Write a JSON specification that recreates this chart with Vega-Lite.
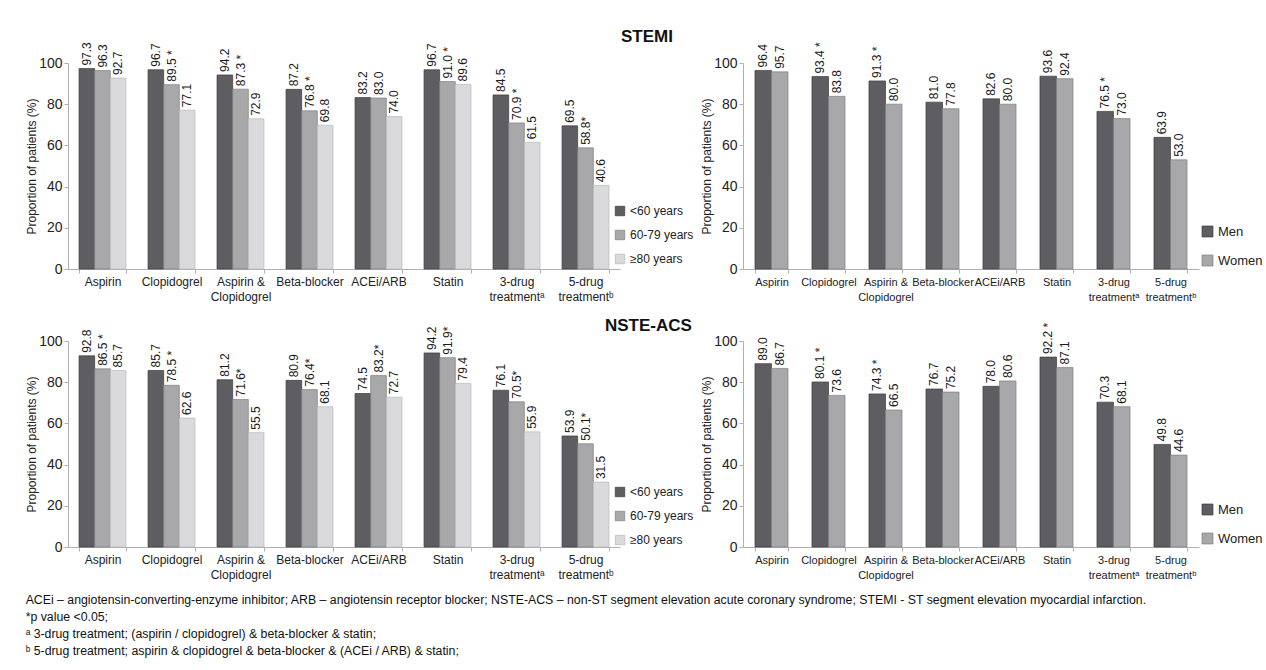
{
  "$schema": "https://vega.github.io/schema/vega-lite/v6.json",
  "padding": {"left": 25, "top": 28, "right": 0, "bottom": 2},
  "background": "white",
  "bounds": "flush",
  "columns": 2,
  "spacing": {"row": 72, "column": 123},
  "resolve": {
    "scale": {"color": "independent", "stroke": "independent", "xOffset": "independent", "x": "independent"},
    "legend": {"color": "independent"}
  },
  "config": {
    "font": "Liberation Sans",
    "view": {"stroke": null},
    "axisY": {
      "grid": false,
      "labelFontSize": 14,
      "labelColor": "#222222",
      "domainColor": "#b0b0b0",
      "tickColor": "#b0b0b0",
      "tickSize": 4,
      "labelPadding": 2,
      "titleFontSize": 12,
      "titleFontWeight": "normal",
      "titleColor": "#222222",
      "titlePadding": 0
    },
    "axisX": {
      "grid": false,
      "domainColor": "#b0b0b0",
      "tickColor": "#b0b0b0",
      "tickSize": 4,
      "tickBand": "extent",
      "labelAngle": 0,
      "labelColor": "#222222",
      "labelPadding": 3,
      "labelLineHeight": 15,
      "labelBaseline": "top",
      "title": null
    },
    "legend": {
      "labelFont": "Liberation Sans",
      "labelColor": "#222222",
      "symbolType": "square",
      "symbolStrokeColor": "#555555",
      "symbolStrokeWidth": 0.7
    }
  },
  "title": {
    "text": [
      "ACEi – angiotensin-converting-enzyme inhibitor; ARB – angiotensin receptor blocker; NSTE-ACS – non-ST segment elevation acute coronary syndrome; STEMI - ST segment elevation myocardial infarction.",
      "*p value <0.05;",
      "ᵃ 3-drug treatment; (aspirin / clopidogrel) & beta-blocker & statin;",
      "ᵇ 5-drug treatment; aspirin & clopidogrel & beta-blocker & (ACEi / ARB) & statin;"
    ],
    "orient": "bottom",
    "anchor": "start",
    "frame": "bounds",
    "fontSize": 12.3,
    "fontWeight": "normal",
    "color": "#111111",
    "lineHeight": 17,
    "offset": 14
  },
  "datasets": {
    "stemiAge": [
      {"drug": "Aspirin", "group": "<60 years", "value": 97.3, "label": "97.3"},
      {"drug": "Aspirin", "group": "60-79 years", "value": 96.3, "label": "96.3"},
      {"drug": "Aspirin", "group": "≥80 years", "value": 92.7, "label": "92.7"},
      {"drug": "Clopidogrel", "group": "<60 years", "value": 96.7, "label": "96.7"},
      {"drug": "Clopidogrel", "group": "60-79 years", "value": 89.5, "label": "89.5 *"},
      {"drug": "Clopidogrel", "group": "≥80 years", "value": 77.1, "label": "77.1"},
      {"drug": "Aspirin &|Clopidogrel", "group": "<60 years", "value": 94.2, "label": "94.2"},
      {"drug": "Aspirin &|Clopidogrel", "group": "60-79 years", "value": 87.3, "label": "87.3 *"},
      {"drug": "Aspirin &|Clopidogrel", "group": "≥80 years", "value": 72.9, "label": "72.9"},
      {"drug": "Beta-blocker", "group": "<60 years", "value": 87.2, "label": "87.2"},
      {"drug": "Beta-blocker", "group": "60-79 years", "value": 76.8, "label": "76.8 *"},
      {"drug": "Beta-blocker", "group": "≥80 years", "value": 69.8, "label": "69.8"},
      {"drug": "ACEi/ARB", "group": "<60 years", "value": 83.2, "label": "83.2"},
      {"drug": "ACEi/ARB", "group": "60-79 years", "value": 83.0, "label": "83.0"},
      {"drug": "ACEi/ARB", "group": "≥80 years", "value": 74.0, "label": "74.0"},
      {"drug": "Statin", "group": "<60 years", "value": 96.7, "label": "96.7"},
      {"drug": "Statin", "group": "60-79 years", "value": 91.0, "label": "91.0 *"},
      {"drug": "Statin", "group": "≥80 years", "value": 89.6, "label": "89.6"},
      {"drug": "3-drug|treatmentᵃ", "group": "<60 years", "value": 84.5, "label": "84.5"},
      {"drug": "3-drug|treatmentᵃ", "group": "60-79 years", "value": 70.9, "label": "70.9  *"},
      {"drug": "3-drug|treatmentᵃ", "group": "≥80 years", "value": 61.5, "label": "61.5"},
      {"drug": "5-drug|treatmentᵇ", "group": "<60 years", "value": 69.5, "label": "69.5"},
      {"drug": "5-drug|treatmentᵇ", "group": "60-79 years", "value": 58.8, "label": "58.8*"},
      {"drug": "5-drug|treatmentᵇ", "group": "≥80 years", "value": 40.6, "label": "40.6"}
    ],
    "stemiSex": [
      {"drug": "Aspirin", "sex": "Men", "value": 96.4, "label": "96.4"},
      {"drug": "Aspirin", "sex": "Women", "value": 95.7, "label": "95.7"},
      {"drug": "Clopidogrel", "sex": "Men", "value": 93.4, "label": "93.4  *"},
      {"drug": "Clopidogrel", "sex": "Women", "value": 83.8, "label": "83.8"},
      {"drug": "Aspirin &|Clopidogrel", "sex": "Men", "value": 91.3, "label": "91.3  *"},
      {"drug": "Aspirin &|Clopidogrel", "sex": "Women", "value": 80.0, "label": "80.0"},
      {"drug": "Beta-blocker", "sex": "Men", "value": 81.0, "label": "81.0"},
      {"drug": "Beta-blocker", "sex": "Women", "value": 77.8, "label": "77.8"},
      {"drug": "ACEi/ARB", "sex": "Men", "value": 82.6, "label": "82.6"},
      {"drug": "ACEi/ARB", "sex": "Women", "value": 80.0, "label": "80.0"},
      {"drug": "Statin", "sex": "Men", "value": 93.6, "label": "93.6"},
      {"drug": "Statin", "sex": "Women", "value": 92.4, "label": "92.4"},
      {"drug": "3-drug|treatmentᵃ", "sex": "Men", "value": 76.5, "label": "76.5   *"},
      {"drug": "3-drug|treatmentᵃ", "sex": "Women", "value": 73.0, "label": "73.0"},
      {"drug": "5-drug|treatmentᵇ", "sex": "Men", "value": 63.9, "label": "63.9"},
      {"drug": "5-drug|treatmentᵇ", "sex": "Women", "value": 53.0, "label": "53.0"}
    ],
    "nsteAge": [
      {"drug": "Aspirin", "group": "<60 years", "value": 92.8, "label": "92.8"},
      {"drug": "Aspirin", "group": "60-79 years", "value": 86.5, "label": "86.5 *"},
      {"drug": "Aspirin", "group": "≥80 years", "value": 85.7, "label": "85.7"},
      {"drug": "Clopidogrel", "group": "<60 years", "value": 85.7, "label": "85.7"},
      {"drug": "Clopidogrel", "group": "60-79 years", "value": 78.5, "label": "78.5 *"},
      {"drug": "Clopidogrel", "group": "≥80 years", "value": 62.6, "label": "62.6"},
      {"drug": "Aspirin &|Clopidogrel", "group": "<60 years", "value": 81.2, "label": "81.2"},
      {"drug": "Aspirin &|Clopidogrel", "group": "60-79 years", "value": 71.6, "label": "71.6*"},
      {"drug": "Aspirin &|Clopidogrel", "group": "≥80 years", "value": 55.5, "label": "55.5"},
      {"drug": "Beta-blocker", "group": "<60 years", "value": 80.9, "label": "80.9"},
      {"drug": "Beta-blocker", "group": "60-79 years", "value": 76.4, "label": "76.4*"},
      {"drug": "Beta-blocker", "group": "≥80 years", "value": 68.1, "label": "68.1"},
      {"drug": "ACEi/ARB", "group": "<60 years", "value": 74.5, "label": "74.5"},
      {"drug": "ACEi/ARB", "group": "60-79 years", "value": 83.2, "label": "83.2*"},
      {"drug": "ACEi/ARB", "group": "≥80 years", "value": 72.7, "label": "72.7"},
      {"drug": "Statin", "group": "<60 years", "value": 94.2, "label": "94.2"},
      {"drug": "Statin", "group": "60-79 years", "value": 91.9, "label": "91.9*"},
      {"drug": "Statin", "group": "≥80 years", "value": 79.4, "label": "79.4"},
      {"drug": "3-drug|treatmentᵃ", "group": "<60 years", "value": 76.1, "label": "76.1"},
      {"drug": "3-drug|treatmentᵃ", "group": "60-79 years", "value": 70.5, "label": "70.5*"},
      {"drug": "3-drug|treatmentᵃ", "group": "≥80 years", "value": 55.9, "label": "55.9"},
      {"drug": "5-drug|treatmentᵇ", "group": "<60 years", "value": 53.9, "label": "53.9"},
      {"drug": "5-drug|treatmentᵇ", "group": "60-79 years", "value": 50.1, "label": "50.1*"},
      {"drug": "5-drug|treatmentᵇ", "group": "≥80 years", "value": 31.5, "label": "31.5"}
    ],
    "nsteSex": [
      {"drug": "Aspirin", "sex": "Men", "value": 89.0, "label": "89.0"},
      {"drug": "Aspirin", "sex": "Women", "value": 86.7, "label": "86.7"},
      {"drug": "Clopidogrel", "sex": "Men", "value": 80.1, "label": "80.1 *"},
      {"drug": "Clopidogrel", "sex": "Women", "value": 73.6, "label": "73.6"},
      {"drug": "Aspirin &|Clopidogrel", "sex": "Men", "value": 74.3, "label": "74.3 *"},
      {"drug": "Aspirin &|Clopidogrel", "sex": "Women", "value": 66.5, "label": "66.5"},
      {"drug": "Beta-blocker", "sex": "Men", "value": 76.7, "label": "76.7"},
      {"drug": "Beta-blocker", "sex": "Women", "value": 75.2, "label": "75.2"},
      {"drug": "ACEi/ARB", "sex": "Men", "value": 78.0, "label": "78.0"},
      {"drug": "ACEi/ARB", "sex": "Women", "value": 80.6, "label": "80.6"},
      {"drug": "Statin", "sex": "Men", "value": 92.2, "label": "92.2    *"},
      {"drug": "Statin", "sex": "Women", "value": 87.1, "label": "87.1"},
      {"drug": "3-drug|treatmentᵃ", "sex": "Men", "value": 70.3, "label": "70.3"},
      {"drug": "3-drug|treatmentᵃ", "sex": "Women", "value": 68.1, "label": "68.1"},
      {"drug": "5-drug|treatmentᵇ", "sex": "Men", "value": 49.8, "label": "49.8"},
      {"drug": "5-drug|treatmentᵇ", "sex": "Women", "value": 44.6, "label": "44.6"}
    ]
  },
  "concat": [
    {
      "width": 552,
      "height": 206,
      "data": {"name": "stemiAge"},
      "title": {"text": "STEMI", "anchor": "start", "frame": "group", "dx": 553, "dy": 4, "offset": 0, "fontSize": 17, "fontWeight": "bold", "color": "#111111"},
      "encoding": {
        "x": {"field": "drug", "type": "nominal", "sort": null, "scale": {"paddingInner": 0.32, "paddingOuter": 0.16}, "axis": {"labelExpr": "split(datum.label, '|')", "labelFontSize": 12}},
        "xOffset": {"field": "group", "type": "nominal", "sort": null, "scale": {"paddingInner": 0, "paddingOuter": 0}},
        "y": {"field": "value", "type": "quantitative", "scale": {"domain": [0, 100]}, "axis": {"values": [0, 20, 40, 60, 80, 100], "title": "Proportion of patients (%)"}}
      },
      "layer": [
        {
          "mark": {"type": "bar", "strokeWidth": 0.7},
          "encoding": {
            "color": {"field": "group", "type": "nominal", "sort": null, "scale": {"domain": ["<60 years", "60-79 years", "≥80 years"], "range": ["#5e5e62", "#a8a8ab", "#dadadc"]}, "legend": {"orient": "none", "legendX": 546, "legendY": 142, "title": null, "symbolSize": 90, "labelFontSize": 12, "rowPadding": 10}},
            "stroke": {"field": "group", "type": "nominal", "sort": null, "scale": {"domain": ["<60 years", "60-79 years", "≥80 years"], "range": ["#3c3c3f", "#7f7f82", "#b8b8bb"]}, "legend": null}
          }
        },
        {
          "mark": {"type": "text", "angle": 270, "align": "left", "baseline": "middle", "dx": 3, "fontSize": 12, "color": "#1a1a1a"},
          "encoding": {"text": {"field": "label"}}
        }
      ]
    },
    {
      "width": 456,
      "height": 206,
      "data": {"name": "stemiSex"},
      "encoding": {
        "x": {"field": "drug", "type": "nominal", "sort": null, "scale": {"paddingInner": 0.42, "paddingOuter": 0.21}, "axis": {"labelExpr": "split(datum.label, '|')", "labelFontSize": 11}},
        "xOffset": {"field": "sex", "type": "nominal", "sort": null, "scale": {"paddingInner": 0, "paddingOuter": 0}},
        "y": {"field": "value", "type": "quantitative", "scale": {"domain": [0, 100]}, "axis": {"values": [0, 20, 40, 60, 80, 100], "title": "Proportion of patients (%)"}}
      },
      "layer": [
        {
          "mark": {"type": "bar", "strokeWidth": 0.7},
          "encoding": {
            "color": {"field": "sex", "type": "nominal", "sort": null, "scale": {"domain": ["Men", "Women"], "range": ["#5e5e62", "#a8a8ab"]}, "legend": {"orient": "none", "legendX": 458, "legendY": 162, "title": null, "symbolSize": 120, "labelFontSize": 13, "rowPadding": 14}},
            "stroke": {"field": "sex", "type": "nominal", "sort": null, "scale": {"domain": ["Men", "Women"], "range": ["#3c3c3f", "#7f7f82"]}, "legend": null}
          }
        },
        {
          "mark": {"type": "text", "angle": 270, "align": "left", "baseline": "middle", "dx": 3, "fontSize": 12, "color": "#1a1a1a"},
          "encoding": {"text": {"field": "label"}}
        }
      ]
    },
    {
      "width": 552,
      "height": 206,
      "data": {"name": "nsteAge"},
      "title": {"text": "NSTE-ACS", "anchor": "start", "frame": "group", "dx": 537, "dy": 8, "offset": 0, "fontSize": 17, "fontWeight": "bold", "color": "#111111"},
      "encoding": {
        "x": {"field": "drug", "type": "nominal", "sort": null, "scale": {"paddingInner": 0.32, "paddingOuter": 0.16}, "axis": {"labelExpr": "split(datum.label, '|')", "labelFontSize": 12}},
        "xOffset": {"field": "group", "type": "nominal", "sort": null, "scale": {"paddingInner": 0, "paddingOuter": 0}},
        "y": {"field": "value", "type": "quantitative", "scale": {"domain": [0, 100]}, "axis": {"values": [0, 20, 40, 60, 80, 100], "title": "Proportion of patients (%)"}}
      },
      "layer": [
        {
          "mark": {"type": "bar", "strokeWidth": 0.7},
          "encoding": {
            "color": {"field": "group", "type": "nominal", "sort": null, "scale": {"domain": ["<60 years", "60-79 years", "≥80 years"], "range": ["#5e5e62", "#a8a8ab", "#dadadc"]}, "legend": {"orient": "none", "legendX": 546, "legendY": 145, "title": null, "symbolSize": 90, "labelFontSize": 12, "rowPadding": 10}},
            "stroke": {"field": "group", "type": "nominal", "sort": null, "scale": {"domain": ["<60 years", "60-79 years", "≥80 years"], "range": ["#3c3c3f", "#7f7f82", "#b8b8bb"]}, "legend": null}
          }
        },
        {
          "mark": {"type": "text", "angle": 270, "align": "left", "baseline": "middle", "dx": 3, "fontSize": 12, "color": "#1a1a1a"},
          "encoding": {"text": {"field": "label"}}
        }
      ]
    },
    {
      "width": 456,
      "height": 206,
      "data": {"name": "nsteSex"},
      "encoding": {
        "x": {"field": "drug", "type": "nominal", "sort": null, "scale": {"paddingInner": 0.42, "paddingOuter": 0.21}, "axis": {"labelExpr": "split(datum.label, '|')", "labelFontSize": 11}},
        "xOffset": {"field": "sex", "type": "nominal", "sort": null, "scale": {"paddingInner": 0, "paddingOuter": 0}},
        "y": {"field": "value", "type": "quantitative", "scale": {"domain": [0, 100]}, "axis": {"values": [0, 20, 40, 60, 80, 100], "title": "Proportion of patients (%)"}}
      },
      "layer": [
        {
          "mark": {"type": "bar", "strokeWidth": 0.7},
          "encoding": {
            "color": {"field": "sex", "type": "nominal", "sort": null, "scale": {"domain": ["Men", "Women"], "range": ["#5e5e62", "#a8a8ab"]}, "legend": {"orient": "none", "legendX": 458, "legendY": 162, "title": null, "symbolSize": 120, "labelFontSize": 13, "rowPadding": 14}},
            "stroke": {"field": "sex", "type": "nominal", "sort": null, "scale": {"domain": ["Men", "Women"], "range": ["#3c3c3f", "#7f7f82"]}, "legend": null}
          }
        },
        {
          "mark": {"type": "text", "angle": 270, "align": "left", "baseline": "middle", "dx": 3, "fontSize": 12, "color": "#1a1a1a"},
          "encoding": {"text": {"field": "label"}}
        }
      ]
    }
  ]
}
